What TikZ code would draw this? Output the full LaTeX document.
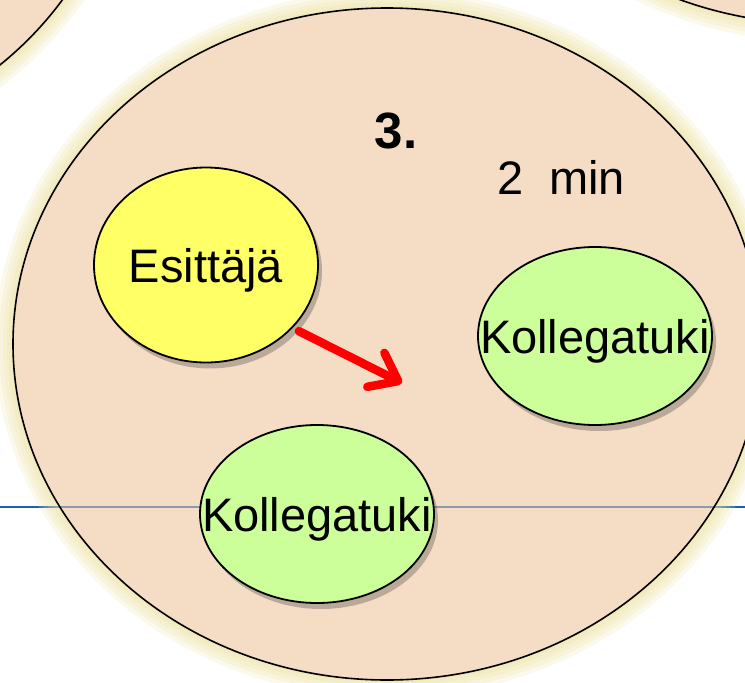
\documentclass[tikz,border=0pt]{standalone}
\usepackage{fontspec}
\setmainfont{Liberation Sans}
\usetikzlibrary{arrows.meta,shapes.geometric,shadows}

\definecolor{peach}{RGB}{245,221,197}
\definecolor{glowyellow}{RGB}{234,222,150}
\definecolor{lineblue}{RGB}{27,94,190}
\definecolor{linegrey}{RGB}{138,155,170}
\definecolor{esityellow}{RGB}{255,255,102}
\definecolor{tukigreen}{RGB}{204,255,153}

\newcommand\roundrx{374pt}
\newcommand\roundry{336pt}
\newcommand\roundglow[2]{
  \foreach \w in {36,28,20,12,5}
    \draw[glowyellow, line width=\w pt, opacity=.18] (#1,#2) ellipse [x radius=\roundrx, y radius=\roundry] ;
}
\newcommand\roundfill[2]{
  \fill[peach] (#1,#2) ellipse [x radius=\roundrx, y radius=\roundry] ;
}
\newcommand\roundedge[2]{
  \draw[line width=1.6pt] (#1,#2) ellipse [x radius=\roundrx, y radius=\roundry] ;
}

\tikzset{
  bigtext/.style={font=\fontsize{47}{50}\selectfont},
  person/.style={ellipse, draw, line width=1.8pt, inner sep=0pt,
    drop shadow={shadow xshift=4pt, shadow yshift=-6pt, opacity=.3, fill=black!80}},
  esitys/.style={person, fill=esityellow, minimum width=224pt, minimum height=195pt},
  tuki/.style={person, fill=tukigreen, minimum width=234pt, minimum height=178pt},
  persontext/.style={bigtext, inner sep=0pt, yshift=-5pt},
  redarrow/.style={red, line width=8.5pt, line cap=round,
    -{Straight Barb[round, length=25pt, width=38pt]}}
}

\begin{document}
\begin{tikzpicture}[x=1pt, y=-1pt]
  \useasboundingbox (0,0) rectangle (745,683);
  % line across the page
  \coordinate (lineW) at (0,507);
  \coordinate (lineE) at (745,507);
  \draw[lineblue, line width=2.7pt] (lineW) -- (lineE);
  % the rounds
  \roundglow{387}{344}
  \roundglow{-250}{-185}
  \roundglow{820}{-312}
  \roundfill{387}{344}
  \roundfill{-250}{-185}
  \roundfill{820}{-312}
  \coordinate (roundW) at (60,507);
  \coordinate (roundE) at (714,507);
  \draw[linegrey, line width=2.7pt] (roundW) -- (roundE);
  \roundedge{387}{344}
  \roundedge{-250}{-185}
  \roundedge{820}{-312}
  % texts
  \node[font=\fontsize{51}{54}\selectfont\bfseries] (number) at (396,131) {3.};
  \node[bigtext] (time) at (561,177) {2~~min};
  % persons
  \node[esitys, label={[persontext]center:Esittäjä}] (esittaja) at (206,265) {};
  \node[tuki, label={[persontext]center:Kollegatuki}] (tukiA) at (595,336) {};
  \node[tuki, label={[persontext]center:Kollegatuki}] (tukiB) at (317,514) {};
  \coordinate (target) at (402,383);
  \draw[redarrow, shorten <=7pt] (esittaja.-36) -- (target);
\end{tikzpicture}
\end{document}
